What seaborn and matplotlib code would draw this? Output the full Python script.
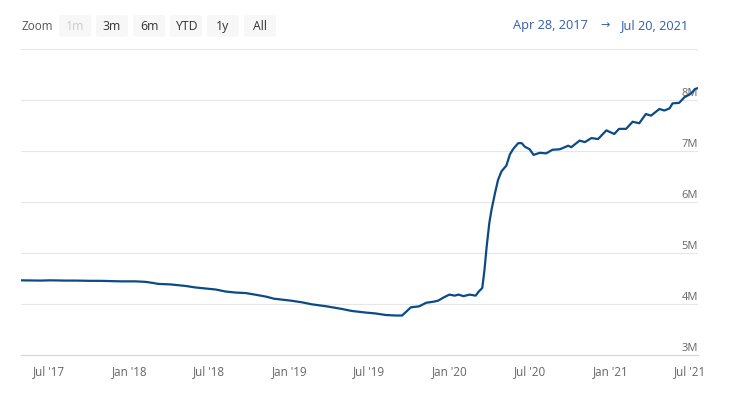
import numpy as np
import pandas as pd
import matplotlib
matplotlib.use("Agg")
import matplotlib.pyplot as plt
import matplotlib.dates as mdates
from matplotlib.patches import FancyBboxPatch
from matplotlib.transforms import IdentityTransform, offset_copy
import seaborn as sns

# значения (млн)
dates = [
    "2017-04-28", "2017-06-11", "2017-07-04", "2017-08-07", "2017-08-30", "2017-10-03",
    "2017-10-26", "2017-11-18", "2017-12-11", "2018-01-14", "2018-02-06", "2018-02-22",
    "2018-03-07", "2018-04-04", "2018-05-08", "2018-05-31", "2018-06-23", "2018-07-16",
    "2018-08-08", "2018-08-31", "2018-09-23", "2018-10-20", "2018-11-08", "2018-11-26",
    "2019-01-05", "2019-01-28", "2019-02-20", "2019-03-26", "2019-04-29", "2019-05-22",
    "2019-06-21", "2019-07-16", "2019-08-08", "2019-08-31", "2019-09-14", "2019-09-23",
    "2019-10-04", "2019-10-23", "2019-11-08", "2019-11-24", "2019-12-05", "2019-12-17",
    "2019-12-31", "2020-01-12", "2020-01-21", "2020-02-01", "2020-02-15", "2020-02-29",
    "2020-03-07", "2020-03-15", "2020-03-20", "2020-03-25", "2020-03-31", "2020-04-05",
    "2020-04-13", "2020-04-20", "2020-04-28", "2020-05-09", "2020-05-17", "2020-05-25",
    "2020-06-05", "2020-06-13", "2020-06-20", "2020-07-01", "2020-07-10", "2020-07-24",
    "2020-08-08", "2020-08-22", "2020-09-08", "2020-09-27", "2020-10-04", "2020-10-23",
    "2020-11-04", "2020-11-19", "2020-12-04", "2020-12-23", "2021-01-10", "2021-01-21",
    "2021-02-06", "2021-02-21", "2021-03-08", "2021-03-23", "2021-04-04", "2021-04-23",
    "2021-05-04", "2021-05-16", "2021-05-23", "2021-06-07", "2021-06-19", "2021-06-30",
    "2021-07-07", "2021-07-13", "2021-07-20",
]
values_m = [
    4.47, 4.465, 4.47, 4.465, 4.465, 4.46,
    4.46, 4.455, 4.45, 4.45, 4.44, 4.42,
    4.40, 4.39, 4.36, 4.33, 4.31, 4.29,
    4.25, 4.23, 4.22, 4.18, 4.15, 4.11,
    4.07, 4.04, 4.00, 3.96, 3.91, 3.87,
    3.84, 3.82, 3.79, 3.78, 3.78, 3.85,
    3.94, 3.96, 4.03, 4.05, 4.07, 4.13,
    4.19, 4.17, 4.19, 4.16, 4.19, 4.17,
    4.25, 4.32, 4.67, 5.13, 5.59, 5.85,
    6.18, 6.44, 6.61, 6.72, 6.94, 7.05,
    7.16, 7.16, 7.09, 7.04, 6.93, 6.97,
    6.96, 7.03, 7.04, 7.11, 7.08, 7.21,
    7.18, 7.26, 7.24, 7.41, 7.34, 7.44,
    7.44, 7.58, 7.55, 7.73, 7.70, 7.83,
    7.80, 7.84, 7.94, 7.95, 8.06, 8.11,
    8.16, 8.22, 8.24,
]
y_ticks_m = [3, 4, 5, 6, 7, 8, 9]
range_buttons = ["1m", "3m", "6m", "YTD", "1y", "All"]
range_start = "Apr 28, 2017"
range_end = "Jul 20, 2021"

df = pd.DataFrame({"date": pd.to_datetime(dates), "value": np.array(values_m) * 1e6})

sns.set_style("white")
plt.rcParams["font.family"] = ["Open Sans", "DejaVu Sans"]

W, H = 735, 398
fig = plt.figure(figsize=(W / 100, H / 100), dpi=100)
ax = fig.add_axes([21 / W, 1 - 355.3 / H, 677 / W, 306 / H])

sns.lineplot(data=df, x="date", y="value", ax=ax, color="#0b4a86", linewidth=1.6, zorder=5)

ax.set_xlim(pd.Timestamp(2017, 4, 28), pd.Timestamp(2021, 7, 20))
ax.set_ylim(3e6, 9e6)
ax.set_xlabel("")
ax.set_ylabel("")

# сетка по y, подписи справа внутри графика
ax.set_yticks(np.array(y_ticks_m) * 1e6)
ax.yaxis.grid(True, color="#e6e6e6", lw=0.8)
ax.tick_params(axis="y", length=0, labelleft=False)
lab_tr = offset_copy(ax.get_yaxis_transform(), fig=fig, x=0, y=7, units="dots")
for v in y_ticks_m[:-1]:
    ax.text(1.0, v * 1e6, f"{v}M", transform=lab_tr, ha="right", va="center",
            fontsize=8.0, color="#666666", zorder=2)

ax.xaxis.set_major_locator(mdates.MonthLocator(bymonth=[1, 7]))
ax.xaxis.set_major_formatter(mdates.DateFormatter("%b '%y"))
ax.tick_params(axis="x", length=6, width=0.8, color="#ccd6eb", pad=1.0,
               labelsize=8.4, labelcolor="#666666")

for s in ["top", "left", "right"]:
    ax.spines[s].set_visible(False)
ax.spines["bottom"].set_color("#ccd6eb")
ax.spines["bottom"].set_linewidth(0.8)

# селектор диапазона сверху
px = IdentityTransform()
fig.text(21.7, H - 26.5, "Zoom", transform=px, ha="left", va="center",
         fontsize=8.4, color="#555555")
bx = [59.3, 96, 133.3, 170, 206.7, 244]
for x0, b in zip(bx, range_buttons):
    fig.add_artist(FancyBboxPatch((x0, H - 36.7), 32, 21.7,
                                  boxstyle="round,pad=0,rounding_size=2.5",
                                  transform=px, facecolor="#f7f7f7", edgecolor="none"))
    fig.text(x0 + 16, H - 26.3, b, transform=px, ha="center", va="center",
             fontsize=8.8, color="#cccccc" if b == "1m" else "#333333")

fig.text(512.7, H - 25.7, range_start, transform=px, ha="left", va="center",
         fontsize=9.2, color="#335cad")
fig.text(605, H - 25.7, "→", transform=px, ha="center", va="center",
         fontsize=8, color="#335cad")
fig.text(689, H - 25.7, range_end, transform=px, ha="right", va="center",
         fontsize=9.2, color="#335cad")

fig.savefig("out.png", dpi=100)
